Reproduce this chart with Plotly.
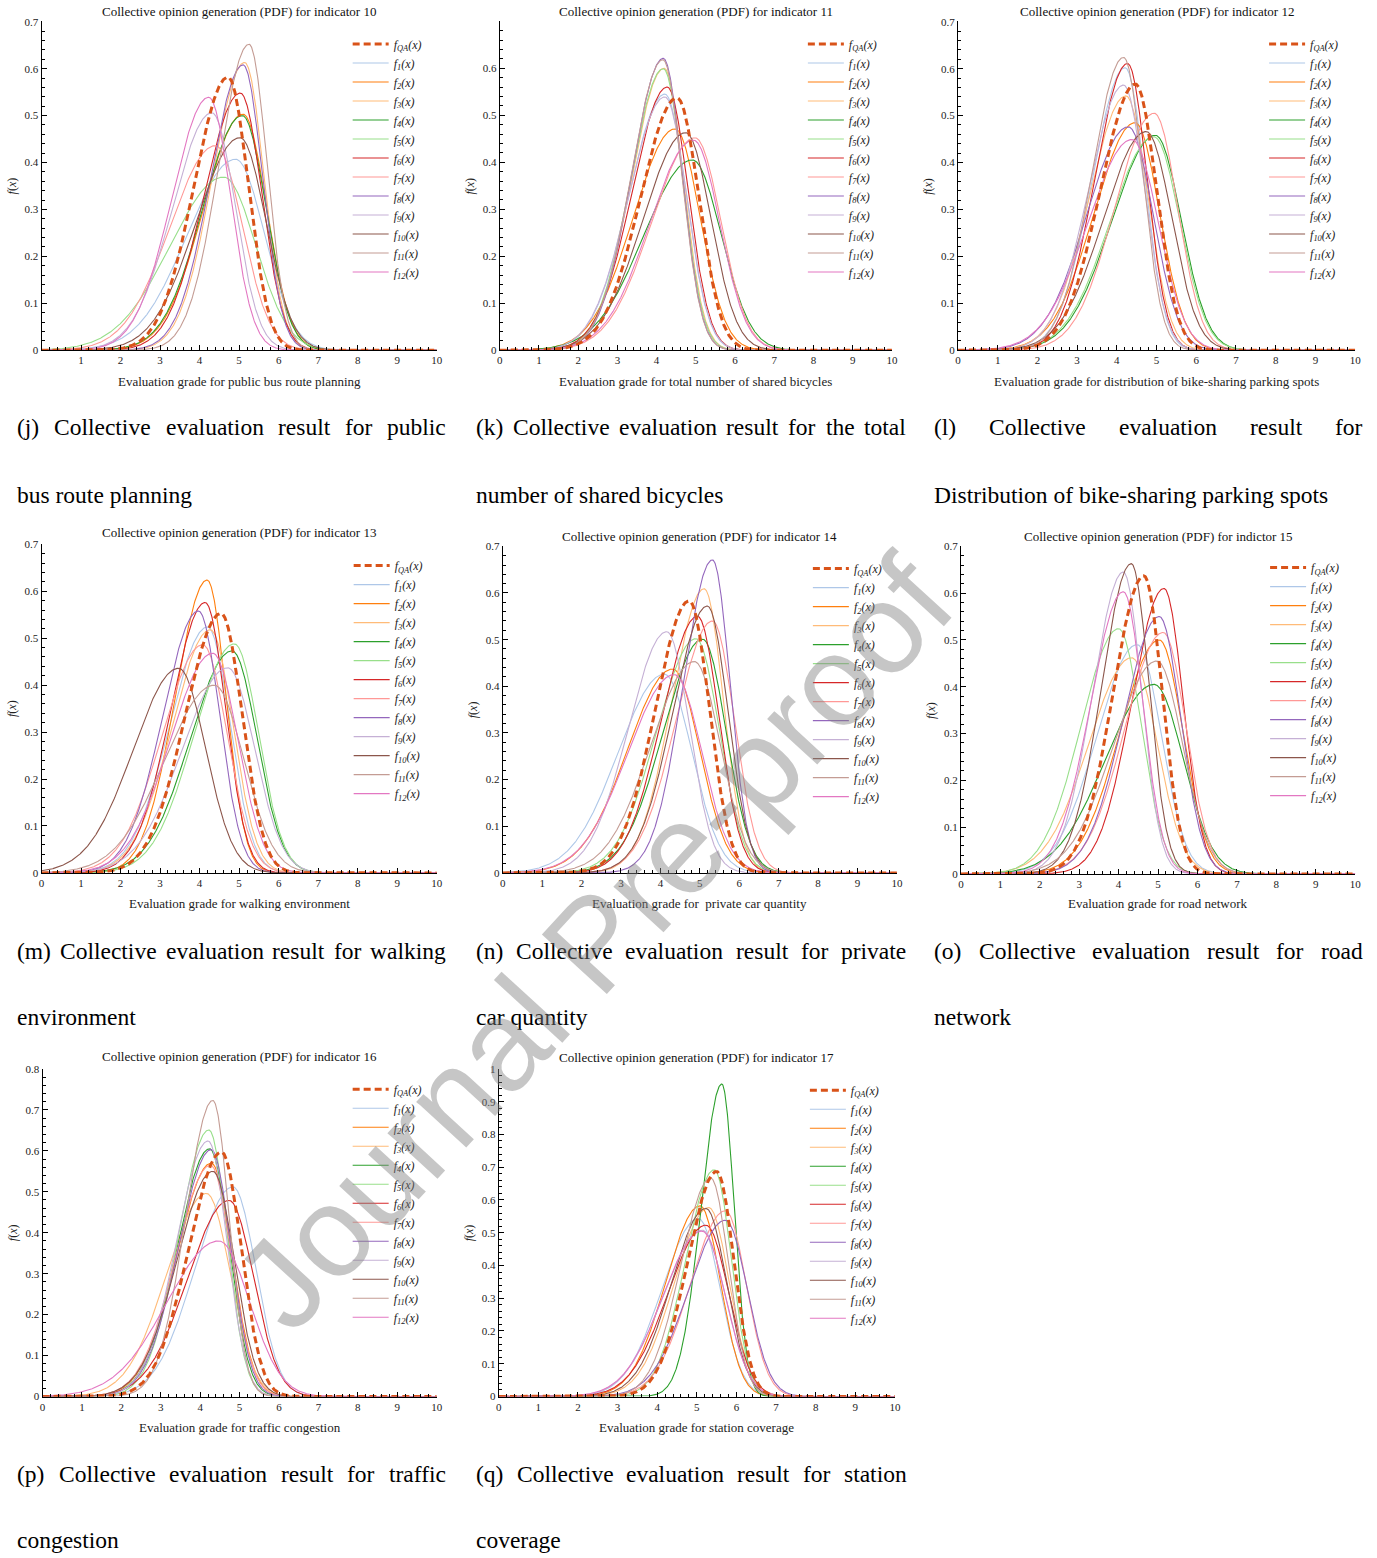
import numpy as np
import plotly.graph_objects as go

W, H = 1377, 1558

# ---------------- data ----------------
# order of every list: f_QA, f_1 ... f_12
SERIES = ["QA"] + [str(i) for i in range(1, 13)]

MODE_10 = [4.72, 4.91, 5.10, 5.14, 5.08, 4.61, 5.03, 4.40, 5.10, 4.31, 5.02, 5.25, 4.23]
PEAK_10 = [0.582, 0.407, 0.503, 0.613, 0.500, 0.369, 0.548, 0.436, 0.608, 0.506, 0.453, 0.652, 0.539]

MODE_11 = [4.52, 4.21, 4.47, 4.19, 4.91, 4.17, 4.27, 4.98, 4.17, 4.21, 4.74, 4.16, 4.94]
PEAK_11 = [0.537, 0.545, 0.471, 0.600, 0.405, 0.599, 0.560, 0.452, 0.621, 0.539, 0.463, 0.618, 0.447]

MODE_12 = [4.47, 4.21, 4.46, 4.23, 4.97, 4.93, 4.27, 4.94, 4.29, 4.17, 4.74, 4.17, 4.38]
PEAK_12 = [0.567, 0.602, 0.485, 0.542, 0.458, 0.455, 0.611, 0.505, 0.476, 0.565, 0.466, 0.624, 0.449]

MODE_13 = [4.54, 4.20, 4.19, 4.27, 4.82, 4.88, 4.14, 4.08, 3.97, 4.71, 3.47, 4.37, 4.33]
PEAK_13 = [0.553, 0.524, 0.624, 0.518, 0.473, 0.488, 0.576, 0.486, 0.558, 0.437, 0.436, 0.400, 0.468]

MODE_14 = [4.73, 4.10, 4.31, 5.11, 5.07, 4.90, 4.94, 5.32, 5.32, 4.16, 5.19, 4.86, 4.35]
PEAK_14 = [0.583, 0.426, 0.437, 0.609, 0.501, 0.502, 0.550, 0.540, 0.671, 0.517, 0.572, 0.453, 0.425]

MODE_15 = [4.64, 4.47, 5.03, 4.33, 4.90, 4.00, 5.15, 5.13, 5.03, 4.12, 4.32, 4.97, 4.12]
PEAK_15 = [0.637, 0.490, 0.500, 0.462, 0.405, 0.524, 0.610, 0.516, 0.550, 0.645, 0.663, 0.455, 0.603]

MODE_16 = [4.54, 4.83, 4.28, 4.16, 4.24, 4.22, 4.73, 4.26, 4.28, 4.20, 4.32, 4.32, 4.47]
PEAK_16 = [0.597, 0.512, 0.570, 0.496, 0.605, 0.651, 0.479, 0.565, 0.603, 0.624, 0.550, 0.723, 0.380]

MODE_17 = [5.50, 5.04, 5.08, 5.30, 5.63, 5.44, 5.23, 5.72, 5.72, 5.13, 5.23, 5.35, 5.13]
PEAK_17 = [0.687, 0.543, 0.582, 0.577, 0.954, 0.692, 0.523, 0.567, 0.538, 0.508, 0.574, 0.667, 0.505]

SKEW = 0.6  # ratio of right to left spread of each PDF

TITLES = [
    "Collective opinion generation (PDF) for indicator 10",
    "Collective opinion generation (PDF) for indicator 11",
    "Collective opinion generation (PDF) for indicator 12",
    "Collective opinion generation (PDF) for indicator 13",
    "Collective opinion generation (PDF) for indicator 14",
    "Collective opinion generation (PDF) for indictor 15",
    "Collective opinion generation (PDF) for indicator 16",
    "Collective opinion generation (PDF) for indicator 17",
]
XLABELS = [
    "Evaluation grade for public bus route planning",
    "Evaluation grade for total number of shared bicycles",
    "Evaluation grade for distribution of bike-sharing parking spots",
    "Evaluation grade for walking environment",
    "Evaluation grade for  private car quantity",
    "Evaluation grade for road network",
    "Evaluation grade for traffic congestion",
    "Evaluation grade for station coverage",
]
CAPTIONS = [
    ("(j) Collective evaluation result for public", "bus route planning"),
    ("(k) Collective evaluation result for the total", "number of shared bicycles"),
    ("(l) Collective evaluation result for", "Distribution of bike-sharing parking spots"),
    ("(m) Collective evaluation result for walking", "environment"),
    ("(n) Collective evaluation result for private", "car quantity"),
    ("(o) Collective evaluation result for road", "network"),
    ("(p) Collective evaluation result for traffic", "congestion"),
    ("(q) Collective evaluation result for station", "coverage"),
]
YMAX = [0.7, 0.699, 0.7, 0.7, 0.7, 0.7, 0.8, 1.0]
X_TICKS_J = [1, 2, 3, 4, 5, 6, 7, 8, 9, 10]
X_TICKS = [0, 1, 2, 3, 4, 5, 6, 7, 8, 9, 10]

MODES = [MODE_10, MODE_11, MODE_12, MODE_13, MODE_14, MODE_15, MODE_16, MODE_17]
PEAKS = [PEAK_10, PEAK_11, PEAK_12, PEAK_13, PEAK_14, PEAK_15, PEAK_16, PEAK_17]

# ---------------- styles / layout ----------------
QA_COLOR = "#D95319"
COLORS = ["#aec7e8", "#ff7f0e", "#ffbb78", "#2ca02c", "#98df8a", "#d62728",
          "#ff9896", "#9467bd", "#c5b0d5", "#8c564b", "#c49c94", "#e377c2"]

# plot boxes in target-image pixels: left, right, top, bottom
BOXES = [
    (42, 437, 22, 351), (500, 892, 22, 351), (958, 1355, 22, 351),
    (42, 437, 545, 874), (503, 897, 547, 874), (961, 1355, 547, 875),
    (43, 437, 1070, 1398), (499, 895, 1070, 1398),
]
TITLE_Y = [12, 12, 12, 533, 537, 537, 1058, 1059]
XLAB_Y = [382, 382, 382, 905, 905, 905, 1429, 1429]
LEGEND_POS = [(354, 43), (809, 43), (1270, 43), (355, 565), (814, 568),
              (1271, 567), (354, 1089), (811, 1090)]
CAP_COLS = [(16.7, 445), (475, 905), (933, 1361)]
CAP_ROWS = [(428, 496), (952, 1018), (1476, 1542)]

SERIF = "Liberation Serif, Times New Roman, serif"

# correction between figure pixels and the photographed page
SC, OX, OY = 0.993, 3.5, 6.5


def fx(x):
    return (x - OX) / SC


def fy(y):
    return (y - OY) / SC


def pxx(x):
    return fx(x) / W


def pxy(y):
    return 1 - fy(y) / H


def split_pdf(x, mode, peak, r):
    s = np.sqrt(2 / np.pi) / peak
    sl = s / (1 + r)
    sr = s * r / (1 + r)
    sig = np.where(x < mode, sl, sr)
    return peak * np.exp(-0.5 * ((x - mode) / sig) ** 2)


xs = np.linspace(0, 10, 1001)
fig = go.Figure()
annotations = []
layout = {}

for p in range(8):
    ax = "" if p == 0 else str(p + 1)
    leg = "legend" if p == 0 else "legend" + str(p + 1)
    for k in list(range(1, 13)) + [0]:
        ys = split_pdf(xs, MODES[p][k], PEAKS[p][k], SKEW)
        if k == 0:
            name = "<i>f<sub>QA</sub>(x)</i>"
            line = dict(color=QA_COLOR, width=3, dash="7px,4px")
            rank = 1
        else:
            name = "<i>f<sub>%d</sub>(x)</i>" % k
            line = dict(color=COLORS[k - 1], width=1.1)
            rank = 10 + k
        fig.add_trace(go.Scatter(x=xs, y=ys, mode="lines", name=name, line=line,
                                 xaxis="x" + ax, yaxis="y" + ax, legend=leg,
                                 legendrank=rank, hoverinfo="skip"))
    l, r, t, b = BOXES[p]
    ymax = YMAX[p]
    ytv = [round(0.1 * i, 1) for i in range(0, 11) if 0.1 * i <= ymax + 1e-9]
    ytt = ["0" if v == 0 else ("1" if v == 1 else "%.1f" % v) for v in ytv]
    xtv = X_TICKS_J if p == 0 else X_TICKS
    layout["xaxis" + ax] = dict(
        domain=[pxx(l), pxx(r)], anchor="y" + ax, range=[0, 10],
        showline=True, linecolor="black", linewidth=1, showgrid=False, zeroline=False,
        ticks="inside", ticklen=5, tickcolor="black", tickvals=xtv,
        ticktext=[str(v) for v in xtv],
        tickfont=dict(family=SERIF, size=11, color="#222"),
        minor=dict(ticks="inside", ticklen=3, dtick=0.2, tickcolor="black", showgrid=False),
    )
    layout["yaxis" + ax] = dict(
        domain=[pxy(b), pxy(t)], anchor="x" + ax, range=[0, ymax + 0.0005],
        showline=True, linecolor="black", linewidth=1, showgrid=False, zeroline=False,
        ticks="inside", ticklen=5, tickcolor="black", tickvals=ytv, ticktext=ytt,
        tickfont=dict(family=SERIF, size=11, color="#222"),
        minor=dict(ticks="inside", ticklen=3, dtick=0.02, tickcolor="black", showgrid=False),
    )
    lx, ly = LEGEND_POS[p]
    layout[leg] = dict(x=pxx(lx - 6), y=pxy(ly - 13), xanchor="left", yanchor="top",
                       bgcolor="rgba(0,0,0,0)", borderwidth=0, tracegroupgap=0,
                       itemwidth=36,
                       font=dict(family=SERIF, size=12, color="#222"))
    cx = (l + r) / 2
    annotations.append(dict(text=TITLES[p], x=pxx(cx), y=pxy(TITLE_Y[p]), xref="paper",
                            yref="paper", showarrow=False, xanchor="center", yanchor="middle",
                            font=dict(family=SERIF, size=13, color="#111")))
    annotations.append(dict(text=XLABELS[p], x=pxx(cx), y=pxy(XLAB_Y[p]), xref="paper",
                            yref="paper", showarrow=False, xanchor="center", yanchor="middle",
                            font=dict(family=SERIF, size=13, color="#222")))
    annotations.append(dict(text="<i>f</i>(<i>x</i>)", x=pxx(l - 30), y=pxy((t + b) / 2),
                            xref="paper", yref="paper", showarrow=False, textangle=-90,
                            xanchor="center", yanchor="middle",
                            font=dict(family=SERIF, size=12, color="#222")))

# captions, justified first line
TNR = {' ': 250, '(': 333, ')': 333, '-': 333, 'a': 444, 'b': 500, 'c': 444, 'd': 500,
       'e': 444, 'f': 333, 'g': 500, 'h': 500, 'i': 278, 'j': 278, 'k': 500, 'l': 278,
       'm': 778, 'n': 500, 'o': 500, 'p': 500, 'q': 500, 'r': 333, 's': 389, 't': 278,
       'u': 500, 'v': 500, 'w': 722, 'x': 500, 'y': 500, 'z': 444, 'C': 667, 'D': 722}
FS = 23.5


def word_w(w):
    return sum(TNR.get(c, 500) for c in w) / 1000 * FS


for p in range(8):
    L, R = CAP_COLS[p % 3]
    y1, y2 = CAP_ROWS[p // 3]
    Lf, Rf = fx(L), fx(R)
    words = CAPTIONS[p][0].split()
    tot = sum(word_w(w) for w in words)
    gap = (Rf - Lf - tot) / (len(words) - 1)
    xpos = Lf
    for w in words:
        annotations.append(dict(text=w, x=xpos / W, y=pxy(y1), xref="paper", yref="paper",
                                showarrow=False, xanchor="left", yanchor="middle",
                                borderpad=0,
                                font=dict(family=SERIF, size=FS, color="black")))
        xpos += word_w(w) + gap
    annotations.append(dict(text=CAPTIONS[p][1], x=Lf / W, y=pxy(y2), xref="paper",
                            yref="paper", showarrow=False, xanchor="left", yanchor="middle",
                            borderpad=0,
                            font=dict(family=SERIF, size=FS, color="black")))

# watermark
annotations.append(dict(text="Journal Pre-proof", x=pxx(594), y=pxy(944), xref="paper",
                        yref="paper", showarrow=False, textangle=-47.5,
                        xanchor="center", yanchor="middle",
                        font=dict(family="Liberation Sans, Arial, sans-serif", size=128,
                                  color="rgba(128,128,128,0.45)")))

fig.update_layout(width=W, height=H, margin=dict(l=0, r=0, t=0, b=0),
                  paper_bgcolor="white", plot_bgcolor="white",
                  annotations=annotations, showlegend=True, **layout)
fig.write_html("out.html", config={"displayModeBar": False},
               post_script="document.body.style.margin='0';"
                           "document.body.style.overflow='hidden';")
